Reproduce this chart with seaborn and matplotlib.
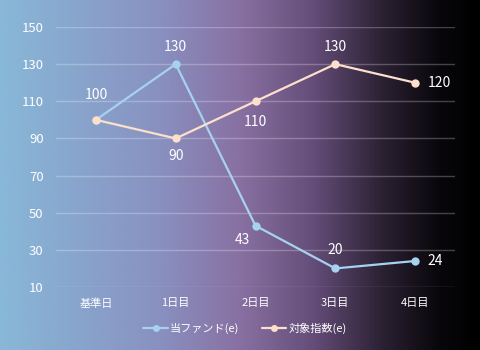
import numpy as np
import pandas as pd
import matplotlib
matplotlib.use("Agg")
import matplotlib.pyplot as plt
from matplotlib.colors import LinearSegmentedColormap
from matplotlib.lines import Line2D
import seaborn as sns

categories = ["基準日", "1日目", "2日目", "3日目", "4日目"]
fund_name = "当ファンド(e)"
index_name = "対象指数(e)"
fund_values = [100, 130, 43, 20, 24]
index_values = [100, 90, 110, 130, 120]
y_ticks = [10, 30, 50, 70, 90, 110, 130, 150]

sns.set_theme(style="white")
plt.rcParams["font.family"] = ["Noto Sans CJK JP", "DejaVu Sans"]

df = pd.DataFrame({
    "day": categories * 2,
    "x": list(range(len(categories))) * 2,
    "value": fund_values + index_values,
    "series": [fund_name] * len(categories) + [index_name] * len(categories),
})

fig = plt.figure(figsize=(4.8, 3.5), dpi=100)

# gradient background
bg = fig.add_axes([0, 0, 1, 1], zorder=0)
cmap = LinearSegmentedColormap.from_list("bg", [
    (0.0, (136/255, 184/255, 216/255)),
    (0.33, (136/255, 145/255, 192/255)),
    (0.5, (136/255, 112/255, 162/255)),
    (0.65, (102/255, 78/255, 122/255)),
    (0.8, (42/255, 32/255, 50/255)),
    (0.92, (8/255, 6/255, 10/255)),
    (1.0, (0, 0, 0)),
])
grad = np.linspace(0, 1, 512).reshape(1, -1)
bg.imshow(grad, aspect="auto", cmap=cmap, extent=[0, 1, 0, 1])
bg.set_axis_off()

ax = fig.add_axes([56/480, 1-287/350, (455-56)/480, (287-27)/350], zorder=1)
ax.set_facecolor("none")

colors = {fund_name: "#a6d2f0", index_name: "#fde0cc"}
sns.lineplot(data=df, x="x", y="value", hue="series", palette=colors,
             marker="o", markersize=6, markeredgewidth=0, linewidth=1.6,
             ax=ax, clip_on=False, legend=False)

ax.set_xlim(-0.5, len(categories) - 0.5)
ax.set_ylim(10, 150)
ax.set_yticks(y_ticks)
ax.set_xticks(range(len(categories)))
ax.set_xticklabels(categories)
ax.tick_params(axis="x", colors="white", labelsize=8, length=0, pad=8)
ax.tick_params(axis="y", colors="white", labelsize=9.5, length=0, pad=9)
ax.yaxis.grid(True, color="white", alpha=0.25, linewidth=1)
ax.xaxis.grid(False)
for s in ax.spines.values():
    s.set_visible(False)
ax.set_xlabel("")
ax.set_ylabel("")

# data labels (offsets in points)
fund_offsets = [None, (0, 12), (-9.5, -10.5), (0, 13), (9, 0)]
index_offsets = [(0, 18), (0, -13), (0, -15), (0, 12), (9, 0)]
for vals, offs in ((fund_values, fund_offsets), (index_values, index_offsets)):
    for i, (v, off) in enumerate(zip(vals, offs)):
        if off is None:
            continue
        ha = "left" if off[0] > 5 else "center"
        ax.annotate(str(v), (i, v), xytext=off, textcoords="offset points",
                    ha=ha, va="center", color="white", fontsize=10)

handles = [Line2D([0], [0], color=colors[n], marker="o", markersize=5,
                  markeredgewidth=0, linewidth=1.6) for n in (fund_name, index_name)]
fig.legend(handles, [fund_name, index_name], loc="center",
           bbox_to_anchor=(245/480, 1-328/350), ncol=2, frameon=False,
           fontsize=8, handlelength=2.2, handletextpad=0.2,
           columnspacing=2.0, labelcolor="white")

fig.savefig("out.png", dpi=100)
